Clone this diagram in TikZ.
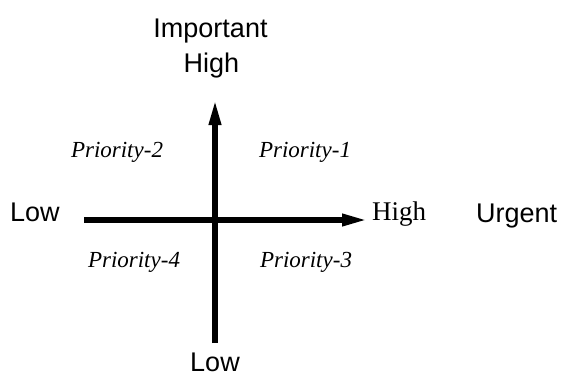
\documentclass[tikz,border=0pt]{standalone}
\usepackage{fontspec}
\setmainfont{Liberation Serif}
\setsansfont{Liberation Sans}
\usetikzlibrary{arrows.meta}
\begin{document}
\begin{tikzpicture}[x=1pt,y=-1pt,
  axislabel/.style={font=\sffamily\fontsize{27}{32}\selectfont, inner sep=0pt},
  prio/.style={font=\itshape\fontsize{23}{28}\selectfont, inner sep=0pt, anchor=base},
  axis/.style={line width=6pt, -{Triangle[length=27pt,width=11pt]}}]
\useasboundingbox (0,0) rectangle (563,378);
\coordinate (hstart) at (84,220);
\coordinate (hend) at (369,220);
\coordinate (vstart) at (215,343);
\coordinate (vend) at (215,98);
\draw[axis] (hstart) -- (hend);
\draw[axis] (vstart) -- (vend);
\node[axislabel, anchor=base] (imp) at (210.5,37) {Important};
\node[axislabel, anchor=base] (hightop) at (211.5,72) {High};
\node[axislabel, anchor=base west] (lowleft) at (10,221) {Low};
\node[axislabel, anchor=base west] (urg) at (476,222) {Urgent};
\node[axislabel, anchor=base] (lowbot) at (215,371) {Low};
\node[font=\fontsize{27}{32}\selectfont, inner sep=0pt, anchor=base west] (highright) at (372,220) {High};
\node[prio] (p1) at (305,157) {Priority-1};
\node[prio] (p2) at (117,157) {Priority-2};
\node[prio] (p3) at (306,267) {Priority-3};
\node[prio] (p4) at (134,267) {Priority-4};
\end{tikzpicture}
\end{document}
